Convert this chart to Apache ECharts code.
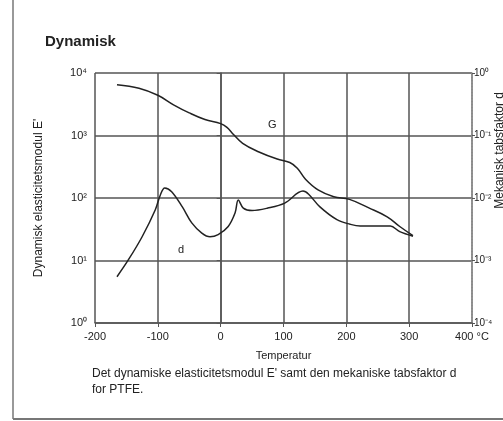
<!DOCTYPE html>
<html>
<head>
<meta charset="utf-8">
<style>
  html, body { margin: 0; padding: 0; background: #fff; }
  #chart { width: 503px; height: 421px; }
</style>
<script src="https://cdn.jsdelivr.net/npm/echarts@6/dist/echarts.min.js"></script>
</head>
<body>
<div id="chart"></div>
<script>
// temperature ticks (°C)
const tempTicks = [-200, -100, 0, 100, 200, 300, 400]

// G: dynamic elastic modulus E' (left log axis)
const gTemps = [-165, -130, -100, -75, -50, -25, 0, 10, 20, 35, 60, 90, 110, 122, 135, 155, 180, 205, 235, 265, 285, 306]
const gValues = [6500, 5700, 4400, 3100, 2300, 1800, 1550, 1350, 1050, 750, 550, 420, 370, 300, 200, 135, 105, 95, 70, 50, 35, 25]

// d: mechanical loss factor (right log axis)
const dTemps = [-165, -147, -125, -104, -96, -89, -78, -61, -46, -30, -17, -4, 12, 23, 28, 36, 50, 75, 102, 131, 140, 158, 185, 206, 222, 250, 270, 285, 306]
const dValues = [0.00055, 0.00102, 0.0024, 0.0065, 0.0112, 0.0145, 0.0126, 0.0072, 0.004, 0.00275, 0.0024, 0.0026, 0.0035, 0.0058, 0.0093, 0.0069, 0.0063, 0.0069, 0.0083, 0.0129, 0.0115, 0.0072, 0.0045, 0.0038, 0.00355, 0.00355, 0.00355, 0.0029, 0.00245]

// curve label positions
const gLabel = [82, 1480]
const dLabel = [-63, 0.0015]

const sup = { '-': '\u207b', '0': '\u2070', '1': '\u00b9', '2': '\u00b2', '3': '\u00b3', '4': '\u2074', '5': '\u2075' }
function powLabel(v) {
  const e = String(Math.round(Math.log10(v)))
  return '10' + e.split('').map(c => sup[c]).join('')
}

const font = '"Liberation Sans", Arial, sans-serif'
const ink = '#222'
const gridColor = '#555'

const chart = echarts.init(document.getElementById('chart'))
chart.setOption({
  animation: false,
  backgroundColor: '#fff',
  textStyle: { fontFamily: font },
  title: {
    text: 'Dynamisk',
    left: 40,
    top: 29,
    textStyle: { fontSize: 15, fontWeight: 'bold', color: ink, fontFamily: font }
  },
  grid: { left: 95, right: 31, top: 73, bottom: 98 },
  xAxis: {
    type: 'value',
    min: -200,
    max: 400,
    interval: 100,
    name: 'Temperatur',
    nameLocation: 'middle',
    nameGap: 27,
    nameTextStyle: { fontSize: 11, color: ink },
    axisLine: { lineStyle: { color: gridColor, width: 1.5 } },
    axisTick: { show: true, length: 4, lineStyle: { color: gridColor } },
    axisLabel: {
      fontSize: 11,
      color: ink,
      margin: 8,
      formatter: v => (v === 400 ? '400 \u00b0C' : String(v))
    },
    splitLine: { show: true, lineStyle: { color: gridColor, width: 1.5 } }
  },
  yAxis: [{
    type: 'log',
    logBase: 10,
    min: 1,
    max: 10000,
    position: 'left',
    name: "Dynamisk elasticitetsmodul E'",
    nameLocation: 'middle',
    nameGap: 50,
    nameTextStyle: { fontSize: 12, color: ink },
    axisLine: { show: true, lineStyle: { color: gridColor, width: 1.5 } },
    axisTick: { show: true, length: 4, lineStyle: { color: gridColor } },
    axisLabel: { fontSize: 11, color: ink, margin: 8, formatter: powLabel },
    splitLine: { show: true, lineStyle: { color: gridColor, width: 1.5 } }
  }, {
    type: 'log',
    logBase: 10,
    min: 0.0001,
    max: 1,
    position: 'right',
    axisLine: { show: true, lineStyle: { color: '#999', width: 1.5, type: 'dotted' } },
    axisTick: { show: true, length: 3, lineStyle: { color: gridColor } },
    axisLabel: { fontSize: 10, color: ink, margin: 2, formatter: powLabel },
    splitLine: { show: false }
  }],
  graphic: [
    {
      type: 'text',
      left: 494,
      top: 92,
      rotation: Math.PI / 2,
      style: { text: 'Mekanisk tabsfaktor d', font: '12px ' + font, fill: ink }
    },
    {
      type: 'text',
      left: 92,
      top: 366,
      style: {
        text: "Det dynamiske elasticitetsmodul E' samt den mekaniske tabsfaktor d\nfor PTFE.",
        font: '12px ' + font,
        fill: ink,
        lineHeight: 16
      }
    },
    {
      type: 'line',
      shape: { x1: 13, y1: 0, x2: 13, y2: 419 },
      style: { stroke: '#777', lineWidth: 1.5 }
    },
    {
      type: 'line',
      shape: { x1: 13, y1: 419, x2: 503, y2: 419 },
      style: { stroke: '#777', lineWidth: 2 }
    }
  ],
  series: [{
    name: 'G',
    type: 'line',
    yAxisIndex: 0,
    smooth: 0.4,
    symbol: 'none',
    lineStyle: { color: ink, width: 1.5 },
    data: gTemps.map((t, i) => [t, gValues[i]]),
    markPoint: {
      symbol: 'circle',
      symbolSize: 0,
      label: { show: true, formatter: 'G', fontSize: 11, color: ink },
      data: [{ coord: gLabel }]
    }
  }, {
    name: 'd',
    type: 'line',
    yAxisIndex: 1,
    smooth: 0.35,
    symbol: 'none',
    lineStyle: { color: ink, width: 1.5 },
    data: dTemps.map((t, i) => [t, dValues[i]]),
    markPoint: {
      symbol: 'circle',
      symbolSize: 0,
      label: { show: true, formatter: 'd', fontSize: 11, color: ink },
      data: [{ coord: dLabel }]
    }
  }]
})
</script>
</body>
</html>
